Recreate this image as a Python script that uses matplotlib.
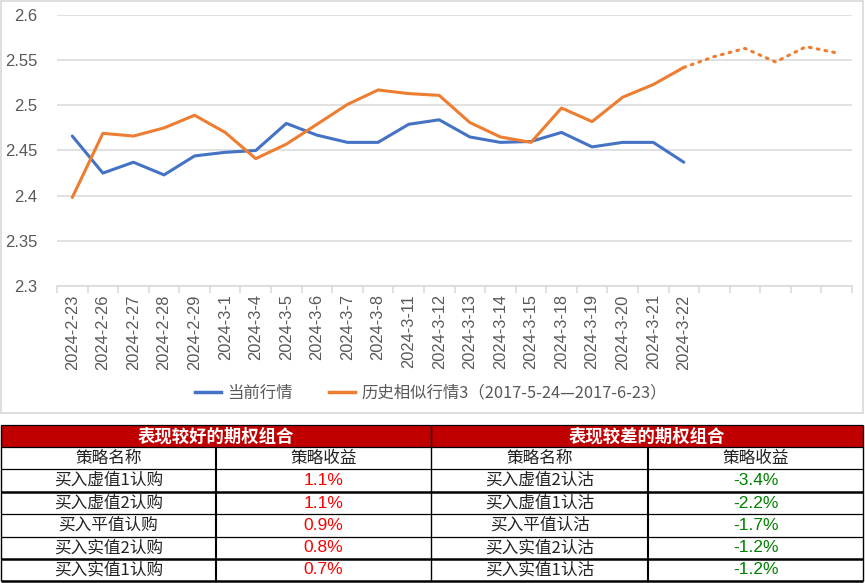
import matplotlib
matplotlib.use("Agg")
import matplotlib.pyplot as plt
from matplotlib.patches import Rectangle
from matplotlib.lines import Line2D

plt.rcParams['font.family'] = ['Liberation Sans', 'Noto Sans CJK SC', 'DejaVu Sans']

# ---------------- data ----------------
dates = ['2024-2-23', '2024-2-26', '2024-2-27', '2024-2-28', '2024-2-29', '2024-3-1',
         '2024-3-4', '2024-3-5', '2024-3-6', '2024-3-7', '2024-3-8', '2024-3-11',
         '2024-3-12', '2024-3-13', '2024-3-14', '2024-3-15', '2024-3-18', '2024-3-19',
         '2024-3-20', '2024-3-21', '2024-3-22', '', '', '', '', '']
current = [2.466, 2.425, 2.437, 2.423, 2.444, 2.448, 2.450, 2.480, 2.467, 2.459, 2.459,
           2.479, 2.484, 2.465, 2.459, 2.460, 2.470, 2.454, 2.459, 2.459, 2.437]
history = [2.398, 2.469, 2.466, 2.475, 2.489, 2.470, 2.441, 2.457, 2.479, 2.501, 2.517,
           2.513, 2.511, 2.481, 2.465, 2.459, 2.497, 2.482, 2.509, 2.523, 2.542]
history_future = [2.554, 2.563, 2.548, 2.565, 2.558]
yticks = [2.3, 2.35, 2.4, 2.45, 2.5, 2.55, 2.6]
ytick_labels = ['2.3', '2.35', '2.4', '2.45', '2.5', '2.55', '2.6']
legend_labels = ['当前行情', '历史相似行情3（2017-5-24—2017-6-23）']

good_title = '表现较好的期权组合'
bad_title = '表现较差的期权组合'
col_headers = ['策略名称', '策略收益', '策略名称', '策略收益']
good_names = ['买入虚值1认购', '买入虚值2认购', '买入平值认购', '买入实值2认购', '买入实值1认购']
good_returns = ['1.1%', '1.1%', '0.9%', '0.8%', '0.7%']
bad_names = ['买入虚值2认沽', '买入虚值1认沽', '买入平值认沽', '买入实值2认沽', '买入实值1认沽']
bad_returns = ['-3.4%', '-2.2%', '-1.7%', '-1.2%', '-1.2%']

BLUE = '#4472C4'
ORANGE = '#ED7D31'
GRID = '#D9D9D9'
TXT = '#595959'

W, H = 865, 583
fig = plt.figure(figsize=(W / 100, H / 100), dpi=100)

# chart border
fig.add_artist(Rectangle((1 / W, 1 - 413 / H), 862 / W, 412 / H, transform=fig.transFigure,
                         fill=False, edgecolor=GRID, lw=1.2))

ax = fig.add_axes([57 / W, 1 - 286 / H, 795 / W, 271 / H])
n = len(dates)
x_cur = list(range(len(current)))
x_hist = list(range(len(history)))
ax.plot(x_cur, current, color=BLUE, lw=2.2, solid_capstyle='round', zorder=3)
ax.plot(x_hist, history, color=ORANGE, lw=2.2, solid_capstyle='round', zorder=3)
xf = list(range(len(history) - 1, len(history) + len(history_future)))
ax.plot(xf, [history[-1]] + history_future, color=ORANGE, lw=2.2,
        linestyle=(0, (0.6, 2.0)), dash_capstyle='round', zorder=3)

ax.set_xlim(-0.5, n - 0.5)
ax.set_ylim(2.3, 2.6)
ax.set_yticks(yticks)
ax.set_yticklabels(ytick_labels, fontsize=12, color=TXT)
ax.grid(axis='y', color=GRID, lw=1.1)
ax.set_axisbelow(True)
for s in ['left', 'right', 'top']:
    ax.spines[s].set_visible(False)
ax.spines['bottom'].set_color(GRID)
ax.spines['bottom'].set_linewidth(1.1)
ax.tick_params(axis='y', length=0, pad=14)
ax.set_xticks(range(n))
ax.set_xticklabels(dates, rotation=90, fontsize=11.8, color=TXT)
ax.tick_params(axis='x', which='major', length=0, pad=6)
ax.set_xticks([i - 0.5 for i in range(n + 1)], minor=True)
ax.tick_params(axis='x', which='minor', length=5, color=GRID, width=1.1)

handles = [Line2D([], [], color=BLUE, lw=2.5), Line2D([], [], color=ORANGE, lw=2.5)]
leg = fig.legend(handles, legend_labels, loc='center', bbox_to_anchor=(431 / W, 1 - 393 / H),
                 ncol=2, frameon=False, handlelength=1.6, handletextpad=0.4,
                 columnspacing=2.2, prop={'family': ['Noto Sans CJK SC', 'DejaVu Sans'], 'size': 11.8})
for t in leg.get_texts():
    t.set_color(TXT)

# ---------------- table ----------------
tax = fig.add_axes([0, 0, 1, 1])
tax.set_xlim(0, W)
tax.set_ylim(H, 0)
tax.axis('off')

cols = [0.5, 216, 431, 648, 863]
rows = [425, 447, 469, 492, 514, 537, 559, 581]
RED = '#C00000'
tax.add_patch(Rectangle((cols[0], rows[0]), cols[-1] - cols[0], rows[1] - rows[0],
                        facecolor=RED, edgecolor='none'))
cjk = ['Noto Sans CJK SC', 'DejaVu Sans']
tax.text((cols[0] + cols[2]) / 2, (rows[0] + rows[1]) / 2 + 0.5, good_title, color='white',
         fontsize=12.5, fontweight='bold', ha='center', va='center', family=cjk)
tax.text((cols[2] + cols[4]) / 2, (rows[0] + rows[1]) / 2 + 0.5, bad_title, color='white',
         fontsize=12.5, fontweight='bold', ha='center', va='center', family=cjk)

for j, h in enumerate(col_headers):
    tax.text((cols[j] + cols[j + 1]) / 2, (rows[1] + rows[2]) / 2, h, fontsize=12,
             ha='center', va='center', color='#222222', family=cjk)

table_cols = [good_names, good_returns, bad_names, bad_returns]
colors = ['#222222', '#FF0000', '#222222', '#008000']
for j, colvals in enumerate(table_cols):
    for i, v in enumerate(colvals):
        tax.text((cols[j] + cols[j + 1]) / 2, (rows[i + 2] + rows[i + 3]) / 2, v,
                 fontsize=12 if j % 2 == 0 else 12.5, ha='center', va='center', color=colors[j],
                 family=cjk if j % 2 == 0 else ['Liberation Sans', 'DejaVu Sans'])

thick_rows = {rows[3], rows[6], rows[7]}
for r in rows:
    lw = 1.8 if r in thick_rows else 0.9
    tax.plot([cols[0], cols[-1]], [r, r], color='black', lw=lw, solid_capstyle='butt')
for k, c in enumerate(cols):
    top = rows[0] if k in (0, 2, 4) else rows[1]
    lw = 1.5 if k in (1, 3) else 1.0
    tax.plot([c, c], [top, rows[-1]], color='black', lw=lw, solid_capstyle='butt')

fig.savefig('out.png', dpi=100)
